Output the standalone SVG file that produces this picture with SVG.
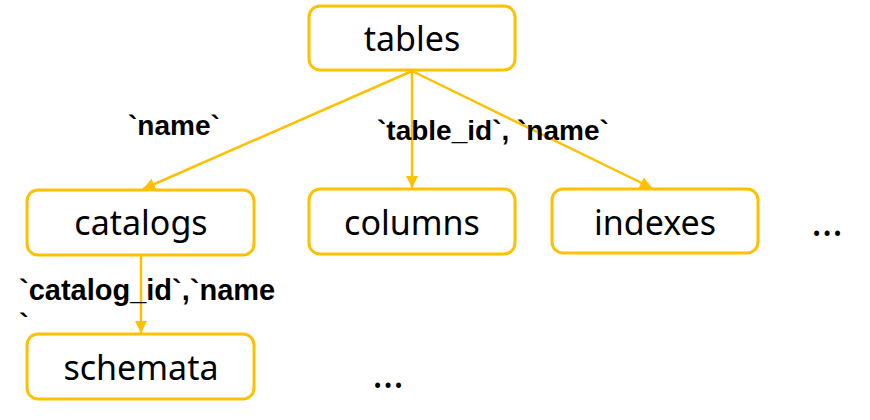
<svg xmlns="http://www.w3.org/2000/svg" width="870" height="420" viewBox="0 0 870 420">
<style>
.box{fill:#fff;stroke:#FFC000;stroke-width:3}
.node{font-family:"Noto Sans","Liberation Sans",sans-serif;font-size:34px;fill:#000;text-anchor:middle}
.dots{font-family:"Noto Sans","Liberation Sans",sans-serif;font-size:40px;fill:#000;text-anchor:middle}
.edge{stroke:#FFC000;stroke-width:2.5;fill:none;marker-end:url(#arr)}
.lbl{font-family:"Liberation Sans",Arial,sans-serif;font-size:28px;font-weight:bold;fill:#000}
</style>
<defs>
<marker id="arr" markerWidth="12" markerHeight="12" refX="10" refY="5" orient="auto" markerUnits="userSpaceOnUse" viewBox="0 0 10 10">
<path d="M0,0 L10,5 L0,10 z" fill="#FFC000"/>
</marker>
</defs>
<rect width="870" height="420" fill="#fff"/>
<g id="connectors">
<line class="edge" x1="412" y1="71" x2="143" y2="189"/>
<line class="edge" x1="412" y1="71" x2="412" y2="188"/>
<line class="edge" x1="412" y1="71" x2="652" y2="188"/>
<line class="edge" x1="141" y1="256" x2="141" y2="333"/>
</g>
<g id="labels">
<text class="lbl" x="128" y="135">`name`</text>
<text class="lbl" x="377" y="140">`table_id`, `name`</text>
<text class="lbl" x="19" y="300" style="font-size:29px">`catalog_id`,`name</text>
<text class="lbl" x="19" y="334" style="font-size:29px">`</text>
</g>
<g id="tables"><rect class="box" x="309" y="6" width="206" height="64" rx="11"/><text class="node" x="412" y="51">tables</text></g>
<g id="catalogs"><rect class="box" x="27" y="190" width="227" height="65" rx="11"/><text class="node" x="141" y="235">catalogs</text></g>
<g id="columns"><rect class="box" x="309" y="189" width="206" height="65" rx="11"/><text class="node" x="412" y="235">columns</text></g>
<g id="indexes"><rect class="box" x="552" y="189" width="206" height="64" rx="11"/><text class="node" x="655" y="235">indexes</text></g>
<g id="schemata"><rect class="box" x="27" y="334" width="227" height="65" rx="11"/><text class="node" x="141" y="380">schemata</text></g>
<g id="more">
<text class="dots" x="827" y="236">…</text>
<text class="dots" x="388" y="388">…</text>
</g>
</svg>
